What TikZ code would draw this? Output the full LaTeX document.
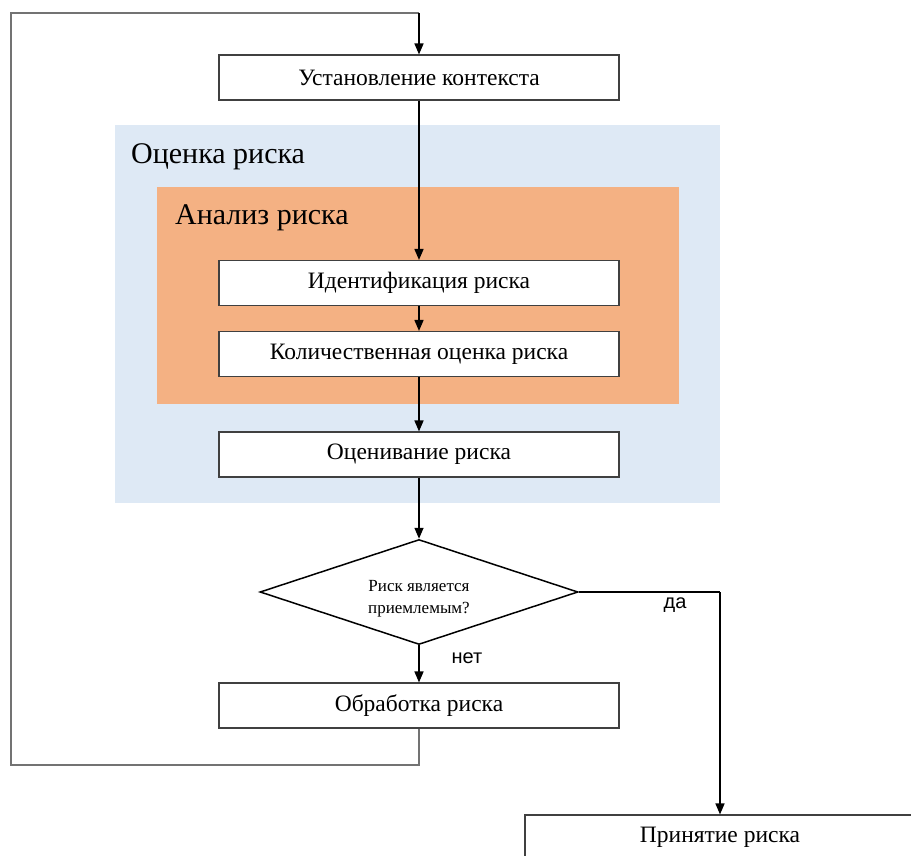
\documentclass[tikz,border=0pt]{standalone}
\usepackage{fontspec}
\setmainfont{Liberation Serif}
\newfontfamily\labelsans{Liberation Sans}
\usetikzlibrary{shapes.geometric,arrows.meta}
\definecolor{blueback}{HTML}{DEE9F5}
\definecolor{orangeback}{HTML}{F4B183}
\begin{document}
\begin{tikzpicture}[x=1pt,y=-1pt,
  box/.style={draw=black!75, line width=1.1pt, fill=white, minimum width=400pt, minimum height=45pt, inner sep=0pt, font=\fontsize{23.5}{26}\selectfont},
  flow/.style={draw=black, line width=1.5pt, -{Triangle[length=11pt,width=9pt]}},
  loopline/.style={draw=black!55, line width=1.1pt},
  regionlabel/.style={anchor=west, inner sep=0pt, font=\fontsize{30}{34}\selectfont},
  answer/.style={inner sep=0pt, font=\labelsans\fontsize{20}{24}\selectfont}]
\useasboundingbox (0,0) rectangle (911,856);
% backgrounds
\fill[blueback] (115,125) rectangle (720,503);
\fill[orangeback] (157,187) rectangle (679,404);
\node[regionlabel] (ocl) at (131,157) {Оценка риска};
\node[regionlabel] (anl) at (175,218) {Анализ риска};
% nodes
\node[box] (ctx) at (419,77.5) {Установление контекста};
\node[box] (ident) at (419,283) {Идентификация риска};
\node[box] (quant) at (419,354) {Количественная оценка риска};
\node[box] (eval) at (419,454.5) {Оценивание риска};
\node[draw=black, line width=1.5pt, fill=white, diamond, aspect=3.03, minimum width=318pt, minimum height=105pt, inner sep=0pt,
  label={[align=center, inner sep=0pt, yshift=-7pt, font=\fontsize{17}{22}\selectfont]center:Риск является\\приемлемым?}] (dec) at (419,592) {};
\node[box] (treat) at (419,705.5) {Обработка риска};
\node[box, minimum width=390pt] (accept) at (720,837.5) {\raisebox{0pt}{Принятие риска}};
\node[answer] (no) at (467,658) {нет};
\node[answer] (yes) at (675,605) {да};
% coordinates for loop
\coordinate (lb) at (11,765);
\coordinate (lt) at (11,13);
\coordinate (ltr) at (419,13);
\coordinate (yr) at (720,592);
% connectors
\draw[flow] (ctx.south) -- (ident.north);
\draw[flow] (ident.south) -- (quant.north);
\draw[flow] (quant.south) -- (eval.north);
\draw[flow] (eval.south) -- (dec.north);
\draw[flow] (dec.south) -- (treat.north);
\draw[line width=1.5pt] (dec.east) -- (yr);
\draw[flow] (yr) -- (accept.north);
\draw[loopline] (treat.south) |- (lb) -- (lt) -- (ltr);
\draw[flow] (ltr) -- (ctx.north);
\end{tikzpicture}
\end{document}
